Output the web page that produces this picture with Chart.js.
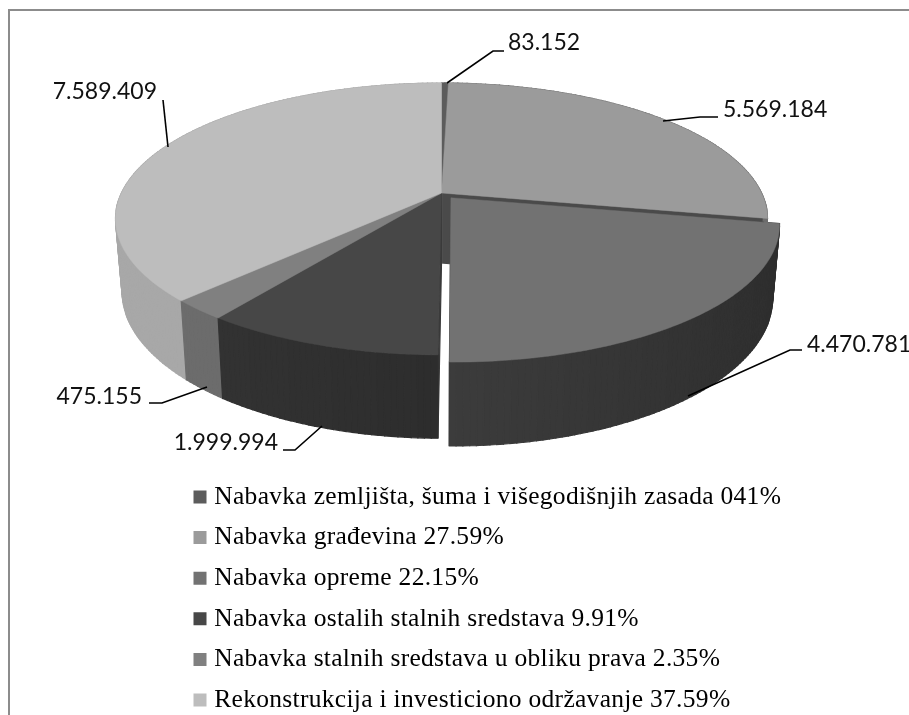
<!DOCTYPE html>
<html><head><meta charset="utf-8">
<script src="https://cdn.jsdelivr.net/npm/chart.js@4"></script>
<style>
html,body{margin:0;padding:0;background:#fff;overflow:hidden}
#frame{position:absolute;left:8px;top:9px;width:1000px;height:800px;border:2px solid #8c8c8c}
canvas{position:absolute;left:0;top:0}
</style></head><body>
<div id="frame"></div>
<canvas id="c" width="909" height="715"></canvas>
<script>
const categories=["Nabavka zemljišta, šuma i višegodišnjih zasada 041%","Nabavka građevina 27.59%","Nabavka opreme 22.15%","Nabavka ostalih stalnih sredstava 9.91%","Nabavka stalnih sredstava u obliku prava 2.35%","Rekonstrukcija i investiciono održavanje 37.59%"];
const values=[83152,5569184,4470781,1999994,475155,7589409];
const valueLabels=["83.152","5.569.184","4.470.781","1.999.994","475.155","7.589.409"];
const topColors=["#5c5c5c","#9b9b9b","#727272","#474747","#808080","#bdbdbd"];
const wallColors=["#444444","#6e6e6e","#3c3c3c","#2d2d2d","#6c6c6c","#a8a8a8"];
const wallShade=[0,0,0.24,0.2,0,0];
const cutColors=["#4a4a4a","#4a4a4a","#444444","#3a3a3a","#6c6c6c","#a8a8a8"];
const explode=[0,0,16,0,0,0];
// leader-line elbows and label anchors (page layout, not data)
const leaders=[
 {a:[447,83],b:[493,51],c:[504,51],t:[508,43],al:'left'},
 {a:[663,121],b:[700,117],c:[718,117],t:[723,110],al:'left'},
 {a:[688,396],b:[790,350],c:[802,350],t:[807,345],al:'left'},
 {a:[322,426],b:[295,450],c:[283,450],t:[278,443],al:'right'},
 {a:[207,387],b:[162,403],c:[149,403],t:[142,397],al:'right'},
 {a:[168,147],b:[163,100],c:[163,100],t:[157,92],al:'right'}
];
const CX=441.5,CY=193,RX=320,RY=131,P=0.191,D=70,S=0.02;
function proj(u,v,h){const k=1/(1-P*v);const sh=1-S*h;return [CX+RX*u*k*sh,CY+(RY*v*sh+D*h)*k];}
function shade(hex,f){const n=parseInt(hex.slice(1),16);const c=[n>>16,(n>>8)&255,n&255].map(x=>Math.max(0,Math.min(255,Math.round(x*f))));return `rgb(${c[0]},${c[1]},${c[2]})`;}
function poly(ctx,pts,col,lw){ctx.beginPath();pts.forEach((p,i)=>i?ctx.lineTo(p[0],p[1]):ctx.moveTo(p[0],p[1]));ctx.closePath();ctx.fillStyle=col;ctx.strokeStyle=col;ctx.lineWidth=lw;ctx.fill();ctx.stroke();}
const pie3d={
 id:'pie3d',
 beforeDraw(chart){chart.ctx.letterSpacing='0.3px';},
 afterLayout(chart){const l=chart.legend;l.left=198.5-l.options.labels.padding;l.top=469.15;l.bottom=900;l.right=909;},
 beforeDatasetDraw(chart){
  const ctx=chart.ctx,arcs=chart.getDatasetMeta(0).data,quads=[],tops=[];
  arcs.forEach((arc,i)=>{
   const {startAngle:a0,endAngle:a1,outerRadius:r}=arc.getProps(['startAngle','endAngle','outerRadius']);
   const mid=(a0+a1)/2,off=(arc.options.offset||0)/r,ox=off*Math.cos(mid),oy=off*Math.sin(mid);
   const n=Math.max(2,Math.ceil((a1-a0)/(Math.PI/180))),pts=[];
   for(let j=0;j<=n;j++){const a=a0+(a1-a0)*j/n;pts.push([ox+Math.cos(a),oy+Math.sin(a)]);}
   for(let j=0;j<n;j++){const p=pts[j],q=pts[j+1],u=(p[0]+q[0])/2,v=(p[1]+q[1])/2;
    quads.push({z:v,col:shade(wallColors[i],1-wallShade[i]*u),pts:[proj(p[0],p[1],0),proj(q[0],q[1],0),proj(q[0],q[1],1),proj(p[0],p[1],1)]});}
   [pts[0],pts[n]].forEach(e=>{quads.push({z:(e[1]+oy)/2-0.02,col:cutColors[i],pts:[proj(ox,oy,0),proj(e[0],e[1],0),proj(e[0],e[1],1),proj(ox,oy,1)]});});
   tops.push({col:arc.options.backgroundColor,pts:[proj(ox,oy,0)].concat(pts.map(p=>proj(p[0],p[1],0)))});
  });
  ctx.save();
  ctx.letterSpacing='0px';
  quads.sort((a,b)=>a.z-b.z).forEach(q=>poly(ctx,q.pts,q.col,1.2));
  tops.forEach(t=>poly(ctx,t.pts,t.col,0.5));
  ctx.restore();
  return false;
 },
 afterDatasetsDraw(chart){
  const ctx=chart.ctx;ctx.save();ctx.letterSpacing='0px';
  ctx.font='23px Lato';ctx.fillStyle='#111';ctx.strokeStyle='#000';ctx.lineWidth=1.6;ctx.textBaseline='middle';
  leaders.forEach((l,i)=>{
   ctx.beginPath();ctx.moveTo(l.a[0],l.a[1]);ctx.lineTo(l.b[0],l.b[1]);ctx.lineTo(l.c[0],l.c[1]);ctx.stroke();
   ctx.textAlign=l.al;ctx.fillText(valueLabels[i],l.t[0],l.t[1]);
  });
  ctx.restore();
 }
};
new Chart(document.getElementById('c'),{
 type:'pie',
 data:{labels:categories,datasets:[{data:values,backgroundColor:topColors,borderWidth:0,offset:explode}]},
 options:{responsive:false,animation:false,rotation:0,layout:{padding:0},
  plugins:{tooltip:{enabled:false},
   legend:{position:'chartArea',align:'start',labels:{boxWidth:3,boxHeight:3,padding:15.1,color:'#111',font:{family:'"Liberation Serif"',size:25.5},
    generateLabels:ch=>ch.data.labels.map((text,i)=>({text,fillStyle:topColors[i],strokeStyle:topColors[i],lineWidth:10,index:i,hidden:false}))}}}
 },
 plugins:[pie3d]
});
</script></body></html>
